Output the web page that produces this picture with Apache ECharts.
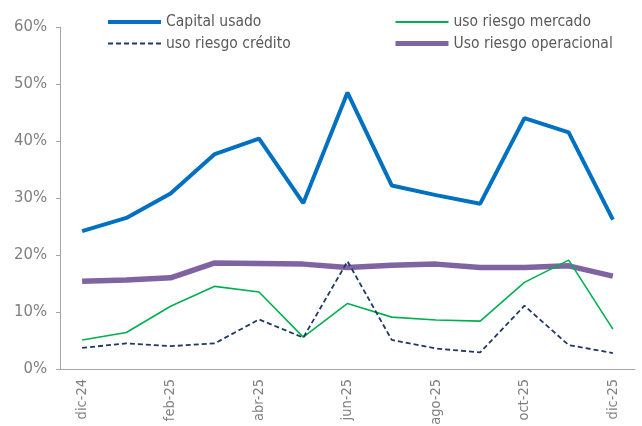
<!DOCTYPE html>
<html>
<head>
<meta charset="utf-8">
<script src="https://cdn.jsdelivr.net/npm/echarts@6/dist/echarts.min.js"></script>
<style>
  html, body { margin: 0; padding: 0; background: #fff; }
  #chart { width: 642px; height: 426px; }
</style>
</head>
<body>
<div id="chart"></div>
<script>
const months = ['dic-24', 'ene-25', 'feb-25', 'mar-25', 'abr-25', 'may-25', 'jun-25',
  'jul-25', 'ago-25', 'sep-25', 'oct-25', 'nov-25', 'dic-25'];
const capitalUsado = [24.2, 26.5, 30.8, 37.7, 40.4, 29.1, 48.5, 32.2, 30.5, 29.0, 44.0, 41.5, 26.2];
const riesgoMercado = [5.1, 6.4, 11.0, 14.5, 13.5, 5.6, 11.5, 9.1, 8.6, 8.4, 15.2, 19.1, 7.0];
const riesgoCredito = [3.7, 4.5, 4.0, 4.5, 8.7, 5.5, 18.9, 5.1, 3.6, 2.9, 11.1, 4.2, 2.8];
const riesgoOperacional = [15.4, 15.6, 16.0, 18.6, 18.5, 18.4, 17.8, 18.2, 18.4, 17.8, 17.8, 18.1, 16.3];

const font = 'DejaVu Sans Condensed';
const chart = echarts.init(document.getElementById('chart'));

// legend in two columns, like the original
const legendBase = {
  top: 14, padding: 0, orient: 'vertical', itemGap: 5.5, itemWidth: 53, itemHeight: 10,
  itemStyle: { opacity: 0 },
  textStyle: { color: '#595959', fontFamily: font, fontSize: 15.5 }
};

chart.setOption({
  animation: false,
  grid: { left: 60, right: 7, top: 27, bottom: 57, outerBoundsMode: 'none' },
  legend: [
    Object.assign({ left: 106, data: [
      { name: 'Capital usado', lineStyle: { width: 4 } },
      { name: 'uso riesgo crédito', lineStyle: { width: 2 } }
    ] }, legendBase),
    Object.assign({ left: 393, data: [
      { name: 'uso riesgo mercado', lineStyle: { width: 2 } },
      { name: 'Uso riesgo operacional', lineStyle: { width: 5 } }
    ] }, legendBase)
  ],
  xAxis: {
    type: 'category',
    data: months,
    boundaryGap: true,
    axisLine: { lineStyle: { color: '#a6a6a6', width: 1 } },
    axisTick: { show: false },
    axisLabel: {
      interval: 1, rotate: 90, color: '#7f7f7f', fontFamily: font, fontSize: 14.5, margin: 10
    }
  },
  yAxis: {
    type: 'value',
    min: 0, max: 60, interval: 10,
    splitLine: { show: false },
    axisLine: { show: true, lineStyle: { color: '#a6a6a6', width: 1 } },
    axisTick: { show: true, length: 4, lineStyle: { color: '#a6a6a6' } },
    axisLabel: {
      formatter: '{value}%', color: '#7f7f7f', fontFamily: font, fontSize: 16.5, margin: 13
    }
  },
  series: [
    {
      name: 'Capital usado', type: 'line', data: capitalUsado, symbol: 'none',
      lineStyle: { color: '#0070c0', width: 4 }, itemStyle: { color: '#0070c0' }, z: 4
    },
    {
      name: 'uso riesgo mercado', type: 'line', data: riesgoMercado, symbol: 'none',
      lineStyle: { color: '#00b050', width: 1.6 }, itemStyle: { color: '#00b050' }, z: 2
    },
    {
      name: 'uso riesgo crédito', type: 'line', data: riesgoCredito, symbol: 'none',
      lineStyle: { color: '#1f3864', width: 1.8, type: [5, 3] }, itemStyle: { color: '#1f3864' }, z: 3
    },
    {
      name: 'Uso riesgo operacional', type: 'line', data: riesgoOperacional, symbol: 'none',
      lineStyle: { color: '#8064a2', width: 5.5 }, itemStyle: { color: '#8064a2' }, z: 1
    }
  ]
});
</script>
</body>
</html>
